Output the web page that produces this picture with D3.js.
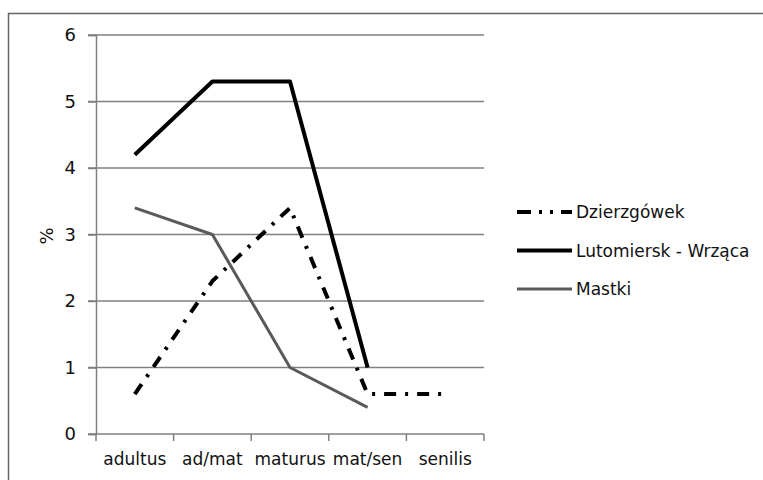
<!DOCTYPE html>
<html>
<head>
<meta charset="utf-8">
<script src="https://cdn.jsdelivr.net/npm/d3@7"></script>
<style>
  body { margin: 0; background: #fff; }
  svg text { font-family: "DejaVu Sans", Verdana, sans-serif; fill: #111; }
</style>
</head>
<body>
<svg id="chart" width="763" height="480"></svg>
<script>
  const categories = ["adultus", "ad/mat", "maturus", "mat/sen", "senilis"];
  const yTicks = [0, 1, 2, 3, 4, 5, 6];
  const dzierzgowek = [0.6, 2.3, 3.4, 0.6, 0.6];
  const lutomiersk = [4.2, 5.3, 5.3, 1.0, null];
  const mastki = [3.4, 3.0, 1.0, 0.4, null];

  const series = [
    { name: "Dzierzgówek", values: dzierzgowek, color: "#000", width: 4, dash: "12,9,3,9" },
    { name: "Lutomiersk - Wrząca", values: lutomiersk, color: "#000", width: 4, dash: null },
    { name: "Mastki", values: mastki, color: "#5a5a5a", width: 3, dash: null }
  ];

  const svg = d3.select("#chart");

  // outer frame (cropped on right/bottom in the original)
  svg.append("rect")
    .attr("x", 8.5).attr("y", 13.5)
    .attr("width", 800).attr("height", 500)
    .attr("fill", "none").attr("stroke", "#666").attr("stroke-width", 1.5);

  const x = d3.scaleBand().domain(categories).range([96, 484]);
  const y = d3.scaleLinear().domain([0, 6]).range([434, 35]);

  // gridlines
  svg.append("g")
    .selectAll("line")
    .data(yTicks)
    .join("line")
    .attr("x1", 88).attr("x2", 484)
    .attr("y1", d => y(d)).attr("y2", d => y(d))
    .attr("stroke", "#808080").attr("stroke-width", 1.5);

  // y axis
  const yAxis = svg.append("g")
    .attr("transform", "translate(96,0)")
    .call(d3.axisLeft(y).tickValues(yTicks).tickFormat(d3.format("d")).tickSize(8).tickPadding(12));
  yAxis.select(".domain").attr("stroke", "#808080").attr("stroke-width", 1.5);
  yAxis.selectAll(".tick line").attr("stroke", "#808080").attr("stroke-width", 1.5);
  yAxis.selectAll("text").style("font-size", "18px");

  // x axis
  const xAxis = svg.append("g")
    .attr("transform", "translate(0,434)")
    .call(d3.axisBottom(x).tickSize(0).tickPadding(19));
  xAxis.select(".domain").remove();
  xAxis.selectAll("text").style("font-size", "17px");
  xAxis.selectAll(".bound")
    .data(d3.range(categories.length + 1))
    .join("line")
    .attr("class", "bound")
    .attr("x1", i => x.range()[0] + i * x.step())
    .attr("x2", i => x.range()[0] + i * x.step())
    .attr("y1", 0).attr("y2", 7)
    .attr("stroke", "#808080").attr("stroke-width", 1.5);

  // y title
  svg.append("text")
    .attr("transform", "translate(53,236) rotate(-90)")
    .attr("text-anchor", "middle")
    .style("font-size", "18px")
    .text("%");

  const line = d3.line()
    .defined(d => d.v != null)
    .x(d => x(d.c) + x.bandwidth() / 2)
    .y(d => y(d.v));

  series.forEach(s => {
    svg.append("path")
      .datum(categories.map((c, i) => ({ c, v: s.values[i] })))
      .attr("d", line)
      .attr("fill", "none")
      .attr("stroke", s.color)
      .attr("stroke-width", s.width)
      .attr("stroke-dasharray", s.dash)
      .attr("stroke-linejoin", "round");
  });

  // legend
  const legend = svg.append("g").attr("transform", "translate(517,212)");
  series.forEach((s, i) => {
    const g = legend.append("g").attr("transform", `translate(0,${i * 38.5})`);
    g.append("line")
      .attr("x1", 0).attr("x2", 55)
      .attr("stroke", s.color)
      .attr("stroke-width", s.width)
      .attr("stroke-dasharray", s.dash ? "14,8,3,8,3,8" : null);
    g.append("text")
      .attr("x", 59).attr("y", 6)
      .style("font-size", "17px")
      .text(s.name);
  });
</script>
</body>
</html>
